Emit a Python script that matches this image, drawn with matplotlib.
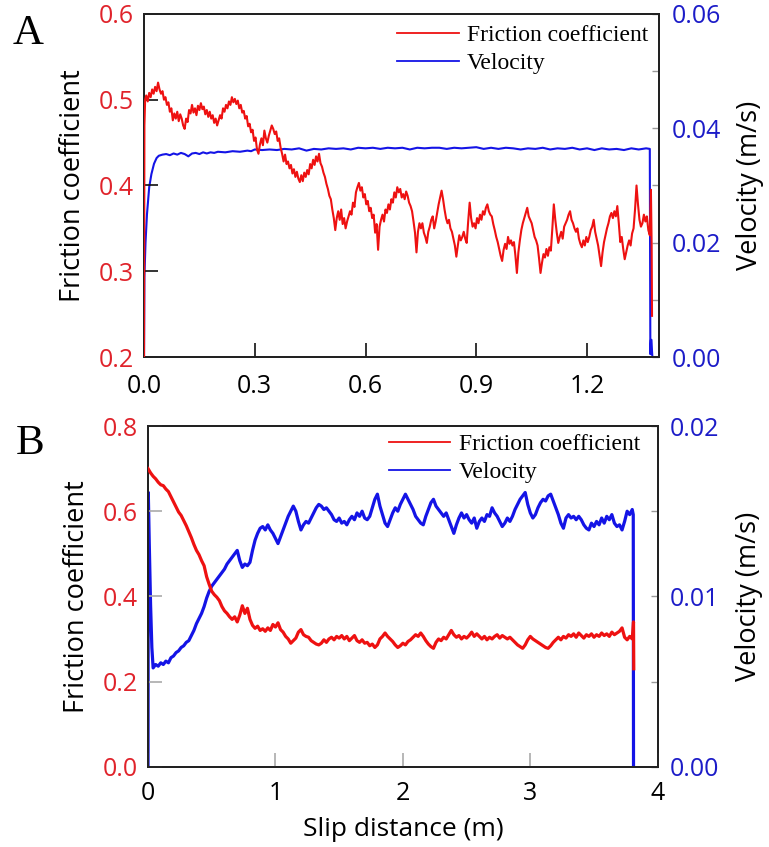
import matplotlib
matplotlib.use("Agg")
import matplotlib.pyplot as plt

# ---------------- Panel A data ----------------
a_fric_x = [0.000, 0.001, 0.003, 0.006, 0.010, 0.014, 0.018, 0.022, 0.026, 0.030, 0.034, 0.038, 0.042, 0.046,
            0.050, 0.054, 0.058, 0.062, 0.066, 0.070, 0.074, 0.078, 0.082, 0.086, 0.090, 0.094, 0.098, 0.102,
            0.106, 0.110, 0.114, 0.118, 0.122, 0.126, 0.130, 0.134, 0.138, 0.142, 0.146, 0.150, 0.154, 0.158,
            0.162, 0.166, 0.170, 0.174, 0.178, 0.182, 0.186, 0.190, 0.194, 0.198, 0.202, 0.206, 0.210, 0.214,
            0.218, 0.222, 0.226, 0.230, 0.234, 0.238, 0.242, 0.246, 0.250, 0.254, 0.258, 0.262, 0.266, 0.270,
            0.274, 0.278, 0.282, 0.286, 0.290, 0.294, 0.298, 0.302, 0.306, 0.310, 0.314, 0.318, 0.322, 0.326,
            0.330, 0.334, 0.338, 0.342, 0.346, 0.350, 0.354, 0.358, 0.362, 0.366, 0.370, 0.374, 0.378, 0.382,
            0.386, 0.390, 0.394, 0.398, 0.402, 0.406, 0.410, 0.414, 0.418, 0.422, 0.426, 0.430, 0.434, 0.438,
            0.442, 0.446, 0.450, 0.454, 0.458, 0.462, 0.466, 0.470, 0.474, 0.478, 0.482, 0.486, 0.490, 0.494,
            0.498, 0.502, 0.506, 0.510, 0.514, 0.518, 0.522, 0.526, 0.530, 0.534, 0.538, 0.542, 0.546, 0.550,
            0.554, 0.558, 0.562, 0.566, 0.570, 0.574, 0.578, 0.582, 0.586, 0.590, 0.594, 0.598, 0.602, 0.606,
            0.610, 0.614, 0.618, 0.622, 0.626, 0.630, 0.634, 0.638, 0.642, 0.646, 0.650, 0.654, 0.658, 0.662,
            0.666, 0.670, 0.674, 0.678, 0.682, 0.686, 0.690, 0.694, 0.698, 0.702, 0.706, 0.710, 0.714, 0.718,
            0.722, 0.726, 0.730, 0.734, 0.738, 0.742, 0.746, 0.750, 0.754, 0.758, 0.762, 0.766, 0.770, 0.774,
            0.778, 0.782, 0.786, 0.790, 0.794, 0.798, 0.802, 0.806, 0.810, 0.814, 0.818, 0.822, 0.826, 0.830,
            0.834, 0.838, 0.842, 0.846, 0.850, 0.854, 0.858, 0.862, 0.866, 0.870, 0.874, 0.878, 0.882, 0.886,
            0.890, 0.894, 0.898, 0.902, 0.906, 0.910, 0.914, 0.918, 0.922, 0.926, 0.930, 0.934, 0.938, 0.942,
            0.946, 0.950, 0.954, 0.958, 0.962, 0.966, 0.970, 0.974, 0.978, 0.982, 0.986, 0.990, 0.994, 0.998,
            1.002, 1.006, 1.010, 1.014, 1.018, 1.022, 1.026, 1.030, 1.034, 1.038, 1.042, 1.046, 1.050, 1.054,
            1.058, 1.062, 1.066, 1.070, 1.074, 1.078, 1.082, 1.086, 1.090, 1.094, 1.098, 1.102, 1.106, 1.110,
            1.114, 1.118, 1.122, 1.126, 1.130, 1.134, 1.138, 1.142, 1.146, 1.150, 1.154, 1.158, 1.162, 1.166,
            1.170, 1.174, 1.178, 1.182, 1.186, 1.190, 1.194, 1.198, 1.202, 1.206, 1.210, 1.214, 1.218, 1.222,
            1.226, 1.230, 1.234, 1.238, 1.242, 1.246, 1.250, 1.254, 1.258, 1.262, 1.266, 1.270, 1.274, 1.278,
            1.282, 1.286, 1.290, 1.294, 1.298, 1.302, 1.306, 1.310, 1.314, 1.318, 1.322, 1.326, 1.330, 1.334,
            1.338, 1.342, 1.346, 1.350, 1.354, 1.358, 1.362, 1.366, 1.370, 1.373, 1.375, 1.376]
a_fric_y = [0.200, 0.470, 0.500, 0.505, 0.498, 0.508, 0.503, 0.512, 0.507, 0.515, 0.510, 0.520, 0.512, 0.507,
            0.510, 0.500, 0.503, 0.494, 0.497, 0.486, 0.490, 0.476, 0.484, 0.478, 0.486, 0.475, 0.483, 0.478,
            0.470, 0.466, 0.478, 0.474, 0.488, 0.484, 0.494, 0.485, 0.490, 0.482, 0.493, 0.488, 0.496, 0.489,
            0.492, 0.483, 0.488, 0.480, 0.486, 0.478, 0.482, 0.473, 0.478, 0.470, 0.476, 0.482, 0.478, 0.490,
            0.486, 0.494, 0.490, 0.498, 0.494, 0.503, 0.497, 0.501, 0.495, 0.499, 0.490, 0.494, 0.485, 0.487,
            0.478, 0.481, 0.469, 0.472, 0.462, 0.465, 0.452, 0.456, 0.442, 0.437, 0.448, 0.455, 0.447, 0.464,
            0.455, 0.450, 0.458, 0.464, 0.470, 0.466, 0.460, 0.463, 0.452, 0.455, 0.444, 0.437, 0.428, 0.436,
            0.425, 0.428, 0.420, 0.424, 0.414, 0.419, 0.410, 0.416, 0.408, 0.404, 0.412, 0.405, 0.415, 0.410,
            0.418, 0.413, 0.425, 0.420, 0.430, 0.424, 0.434, 0.428, 0.437, 0.426, 0.422, 0.415, 0.410, 0.402,
            0.396, 0.388, 0.384, 0.372, 0.362, 0.348, 0.362, 0.370, 0.360, 0.372, 0.355, 0.362, 0.350, 0.358,
            0.364, 0.370, 0.366, 0.380, 0.375, 0.392, 0.398, 0.403, 0.394, 0.398, 0.386, 0.390, 0.378, 0.382,
            0.370, 0.374, 0.362, 0.366, 0.345, 0.355, 0.325, 0.352, 0.360, 0.366, 0.358, 0.372, 0.368, 0.378,
            0.372, 0.384, 0.380, 0.392, 0.386, 0.398, 0.392, 0.396, 0.386, 0.390, 0.384, 0.393, 0.388, 0.380,
            0.376, 0.370, 0.358, 0.345, 0.322, 0.346, 0.356, 0.350, 0.356, 0.345, 0.340, 0.333, 0.346, 0.352,
            0.360, 0.364, 0.350, 0.358, 0.368, 0.378, 0.386, 0.394, 0.384, 0.372, 0.362, 0.356, 0.360, 0.350,
            0.346, 0.338, 0.330, 0.317, 0.330, 0.342, 0.336, 0.340, 0.346, 0.338, 0.333, 0.358, 0.380, 0.362,
            0.352, 0.356, 0.350, 0.362, 0.356, 0.366, 0.360, 0.370, 0.366, 0.374, 0.378, 0.370, 0.366, 0.364,
            0.355, 0.348, 0.340, 0.334, 0.326, 0.318, 0.312, 0.325, 0.332, 0.326, 0.340, 0.332, 0.336, 0.330,
            0.334, 0.318, 0.298, 0.322, 0.336, 0.348, 0.356, 0.362, 0.368, 0.374, 0.364, 0.360, 0.356, 0.348,
            0.340, 0.336, 0.330, 0.315, 0.298, 0.310, 0.320, 0.316, 0.326, 0.318, 0.328, 0.324, 0.350, 0.378,
            0.360, 0.345, 0.333, 0.340, 0.346, 0.338, 0.352, 0.356, 0.360, 0.366, 0.370, 0.360, 0.356, 0.350,
            0.346, 0.350, 0.338, 0.332, 0.328, 0.336, 0.330, 0.340, 0.334, 0.340, 0.348, 0.352, 0.360, 0.346,
            0.338, 0.330, 0.318, 0.306, 0.322, 0.334, 0.342, 0.350, 0.356, 0.364, 0.368, 0.362, 0.370, 0.364,
            0.376, 0.356, 0.334, 0.340, 0.326, 0.314, 0.322, 0.330, 0.336, 0.330, 0.344, 0.350, 0.372, 0.400,
            0.378, 0.360, 0.352, 0.356, 0.366, 0.358, 0.364, 0.348, 0.342, 0.395, 0.330, 0.248]

a_vel_x = [0.000, 0.001, 0.004, 0.008, 0.014, 0.020, 0.027, 0.034, 0.040, 0.050, 0.060, 0.070, 0.080, 0.090,
           0.100, 0.110, 0.120, 0.130, 0.140, 0.150, 0.160, 0.170, 0.180, 0.190, 0.200, 0.220, 0.240, 0.260,
           0.280, 0.290, 0.300, 0.320, 0.340, 0.360, 0.380, 0.400, 0.420, 0.440, 0.460, 0.480, 0.500, 0.520,
           0.540, 0.560, 0.580, 0.600, 0.620, 0.640, 0.660, 0.680, 0.700, 0.720, 0.740, 0.760, 0.780, 0.800,
           0.820, 0.840, 0.860, 0.880, 0.900, 0.920, 0.940, 0.960, 0.980, 1.000, 1.020, 1.040, 1.060, 1.080,
           1.100, 1.120, 1.140, 1.160, 1.180, 1.200, 1.220, 1.240, 1.260, 1.280, 1.300, 1.320, 1.340, 1.360,
           1.370, 1.3715, 1.373, 1.3745, 1.376, 1.377]
a_vel_y = [0.0000, 0.0140, 0.0200, 0.0250, 0.0297, 0.0320, 0.0338, 0.0348, 0.0352, 0.0354, 0.0355, 0.0353,
           0.0356, 0.0354, 0.0357, 0.0355, 0.0351, 0.0356, 0.0357, 0.0355, 0.0358, 0.0356, 0.0358, 0.0357,
           0.0359, 0.0358, 0.0360, 0.0359, 0.0361, 0.0360, 0.0363, 0.0362, 0.0363, 0.0362, 0.0364, 0.0363,
           0.0365, 0.0361, 0.0364, 0.0363, 0.0365, 0.0364, 0.0365, 0.0363, 0.0366, 0.0365, 0.0366, 0.0364,
           0.0366, 0.0365, 0.0366, 0.0363, 0.0366, 0.0365, 0.0366, 0.0366, 0.0364, 0.0366, 0.0365, 0.0366,
           0.0367, 0.0364, 0.0366, 0.0364, 0.0366, 0.0365, 0.0363, 0.0365, 0.0364, 0.0366, 0.0363, 0.0365,
           0.0364, 0.0366, 0.0363, 0.0365, 0.0362, 0.0365, 0.0363, 0.0364, 0.0362, 0.0365, 0.0363, 0.0365,
           0.0364, 0.0005, 0.0030, 0.0030, 0.0010, 0.0000]

# ---------------- Panel B data ----------------
b_fric_x = [0.000, 0.020, 0.040, 0.060, 0.080, 0.100, 0.120, 0.140, 0.160, 0.180, 0.200, 0.220, 0.240, 0.260,
            0.280, 0.300, 0.320, 0.340, 0.360, 0.380, 0.400, 0.420, 0.440, 0.460, 0.480, 0.500, 0.520, 0.540,
            0.560, 0.580, 0.600, 0.620, 0.640, 0.660, 0.680, 0.700, 0.720, 0.740, 0.760, 0.780, 0.800, 0.820,
            0.840, 0.860, 0.880, 0.900, 0.920, 0.940, 0.960, 0.980, 1.000, 1.020, 1.040, 1.060, 1.080, 1.100,
            1.120, 1.140, 1.160, 1.180, 1.200, 1.220, 1.240, 1.260, 1.280, 1.300, 1.320, 1.340, 1.360, 1.380,
            1.400, 1.420, 1.440, 1.460, 1.480, 1.500, 1.520, 1.540, 1.560, 1.580, 1.600, 1.620, 1.640, 1.660,
            1.680, 1.700, 1.720, 1.740, 1.760, 1.780, 1.800, 1.820, 1.840, 1.860, 1.880, 1.900, 1.920, 1.940,
            1.960, 1.980, 2.000, 2.020, 2.040, 2.060, 2.080, 2.100, 2.120, 2.140, 2.160, 2.180, 2.200, 2.220,
            2.240, 2.260, 2.280, 2.300, 2.320, 2.340, 2.360, 2.380, 2.400, 2.420, 2.440, 2.460, 2.480, 2.500,
            2.520, 2.540, 2.560, 2.580, 2.600, 2.620, 2.640, 2.660, 2.680, 2.700, 2.720, 2.740, 2.760, 2.780,
            2.800, 2.820, 2.840, 2.860, 2.880, 2.900, 2.920, 2.940, 2.960, 2.980, 3.000, 3.020, 3.040, 3.060,
            3.080, 3.100, 3.120, 3.140, 3.160, 3.180, 3.200, 3.220, 3.240, 3.260, 3.280, 3.300, 3.320, 3.340,
            3.360, 3.380, 3.400, 3.420, 3.440, 3.460, 3.480, 3.500, 3.520, 3.540, 3.560, 3.580, 3.600, 3.620,
            3.640, 3.660, 3.680, 3.700, 3.720, 3.740, 3.760, 3.780, 3.800, 3.810, 3.812]
b_fric_y = [0.700, 0.690, 0.682, 0.676, 0.668, 0.662, 0.660, 0.652, 0.646, 0.634, 0.622, 0.610, 0.598, 0.590,
            0.578, 0.566, 0.552, 0.538, 0.522, 0.508, 0.498, 0.484, 0.472, 0.446, 0.428, 0.412, 0.404, 0.398,
            0.390, 0.376, 0.366, 0.360, 0.352, 0.346, 0.352, 0.340, 0.356, 0.378, 0.360, 0.372, 0.346, 0.332,
            0.325, 0.330, 0.320, 0.324, 0.318, 0.326, 0.320, 0.334, 0.328, 0.338, 0.322, 0.316, 0.306, 0.300,
            0.290, 0.296, 0.302, 0.316, 0.322, 0.310, 0.306, 0.304, 0.296, 0.292, 0.288, 0.286, 0.290, 0.298,
            0.292, 0.300, 0.304, 0.298, 0.306, 0.302, 0.308, 0.300, 0.306, 0.296, 0.302, 0.308, 0.296, 0.292,
            0.298, 0.290, 0.292, 0.284, 0.288, 0.280, 0.286, 0.300, 0.306, 0.314, 0.306, 0.300, 0.294, 0.286,
            0.280, 0.284, 0.290, 0.286, 0.294, 0.298, 0.304, 0.310, 0.306, 0.314, 0.306, 0.296, 0.288, 0.282,
            0.278, 0.292, 0.300, 0.296, 0.304, 0.300, 0.310, 0.320, 0.310, 0.304, 0.308, 0.300, 0.306, 0.302,
            0.308, 0.316, 0.306, 0.312, 0.306, 0.300, 0.306, 0.298, 0.304, 0.300, 0.306, 0.310, 0.302, 0.308,
            0.304, 0.300, 0.304, 0.298, 0.292, 0.286, 0.282, 0.278, 0.286, 0.298, 0.306, 0.300, 0.296, 0.292,
            0.288, 0.284, 0.280, 0.278, 0.284, 0.292, 0.298, 0.304, 0.298, 0.306, 0.302, 0.310, 0.306, 0.312,
            0.304, 0.314, 0.308, 0.302, 0.310, 0.306, 0.312, 0.304, 0.310, 0.306, 0.314, 0.308, 0.312, 0.306,
            0.316, 0.310, 0.314, 0.318, 0.326, 0.304, 0.298, 0.306, 0.300, 0.340, 0.230]

b_vel_x = [0.000, 0.002, 0.010, 0.020, 0.030, 0.040, 0.060, 0.080, 0.100, 0.120, 0.140, 0.160, 0.180, 0.200,
           0.220, 0.240, 0.260, 0.280, 0.300, 0.320, 0.340, 0.360, 0.380, 0.400, 0.420, 0.440, 0.460, 0.480,
           0.500, 0.520, 0.540, 0.560, 0.580, 0.600, 0.620, 0.640, 0.660, 0.680, 0.700, 0.720, 0.740, 0.760,
           0.780, 0.800, 0.820, 0.840, 0.860, 0.880, 0.900, 0.920, 0.940, 0.960, 0.980, 1.000, 1.020, 1.040,
           1.060, 1.080, 1.100, 1.120, 1.140, 1.160, 1.180, 1.200, 1.220, 1.240, 1.260, 1.280, 1.300, 1.320,
           1.340, 1.360, 1.380, 1.400, 1.420, 1.440, 1.460, 1.480, 1.500, 1.520, 1.540, 1.560, 1.580, 1.600,
           1.620, 1.640, 1.660, 1.680, 1.700, 1.720, 1.740, 1.760, 1.780, 1.800, 1.820, 1.840, 1.860, 1.880,
           1.900, 1.920, 1.940, 1.960, 1.980, 2.000, 2.020, 2.040, 2.060, 2.080, 2.100, 2.120, 2.140, 2.160,
           2.180, 2.200, 2.220, 2.240, 2.260, 2.280, 2.300, 2.320, 2.340, 2.360, 2.380, 2.400, 2.420, 2.440,
           2.460, 2.480, 2.500, 2.520, 2.540, 2.560, 2.580, 2.600, 2.620, 2.640, 2.660, 2.680, 2.700, 2.720,
           2.740, 2.760, 2.780, 2.800, 2.820, 2.840, 2.860, 2.880, 2.900, 2.920, 2.940, 2.960, 2.980, 3.000,
           3.020, 3.040, 3.060, 3.080, 3.100, 3.120, 3.140, 3.160, 3.180, 3.200, 3.220, 3.240, 3.260, 3.280,
           3.300, 3.320, 3.340, 3.360, 3.380, 3.400, 3.420, 3.440, 3.460, 3.480, 3.500, 3.520, 3.540, 3.560,
           3.580, 3.600, 3.620, 3.640, 3.660, 3.680, 3.700, 3.720, 3.740, 3.760, 3.780, 3.800, 3.808, 3.810]
b_vel_y = [0.0000, 0.0161, 0.0130, 0.0095, 0.0070, 0.0058, 0.0060, 0.0059, 0.0061, 0.0060, 0.0062, 0.0061,
           0.0064, 0.0065, 0.0067, 0.0068, 0.0070, 0.0071, 0.0073, 0.0074, 0.0077, 0.0080, 0.0084, 0.0087,
           0.0090, 0.0094, 0.0099, 0.0103, 0.0106, 0.0108, 0.0110, 0.0112, 0.0114, 0.0116, 0.0119, 0.0121,
           0.0123, 0.0125, 0.0127, 0.0121, 0.0117, 0.0119, 0.0118, 0.0120, 0.0127, 0.0133, 0.0137, 0.0140,
           0.0141, 0.0139, 0.0142, 0.0139, 0.0137, 0.0134, 0.0131, 0.0135, 0.0139, 0.0143, 0.0147, 0.0150,
           0.0153, 0.0150, 0.0144, 0.0139, 0.0142, 0.0144, 0.0143, 0.0146, 0.0149, 0.0152, 0.0154, 0.0153,
           0.0151, 0.0152, 0.0150, 0.0148, 0.0145, 0.0144, 0.0146, 0.0143, 0.0144, 0.0142, 0.0145, 0.0147,
           0.0145, 0.0149, 0.0147, 0.0150, 0.0146, 0.0145, 0.0147, 0.0152, 0.0157, 0.0160, 0.0153, 0.0148,
           0.0143, 0.0141, 0.0145, 0.0149, 0.0152, 0.0150, 0.0154, 0.0157, 0.0160, 0.0157, 0.0154, 0.0151,
           0.0147, 0.0145, 0.0143, 0.0142, 0.0147, 0.0151, 0.0155, 0.0157, 0.0153, 0.0151, 0.0149, 0.0147,
           0.0149, 0.0145, 0.0141, 0.0137, 0.0142, 0.0146, 0.0149, 0.0146, 0.0148, 0.0145, 0.0143, 0.0146,
           0.0140, 0.0144, 0.0146, 0.0144, 0.0148, 0.0147, 0.0152, 0.0149, 0.0147, 0.0144, 0.0141, 0.0143,
           0.0146, 0.0144, 0.0147, 0.0151, 0.0154, 0.0157, 0.0159, 0.0161, 0.0154, 0.0149, 0.0146, 0.0148,
           0.0152, 0.0155, 0.0157, 0.0156, 0.0159, 0.0160, 0.0156, 0.0152, 0.0148, 0.0143, 0.0140, 0.0146,
           0.0148, 0.0146, 0.0147, 0.0145, 0.0147, 0.0145, 0.0142, 0.0140, 0.0139, 0.0143, 0.0141, 0.0144,
           0.0142, 0.0146, 0.0143, 0.0147, 0.0145, 0.0148, 0.0143, 0.0141, 0.0142, 0.0139, 0.0144, 0.0150,
           0.0148, 0.0151, 0.0148, 0.0000]

# ---------------- Axis settings ----------------
a_xticks = [0.0, 0.3, 0.6, 0.9, 1.2]
a_xticklabels = ["0.0", "0.3", "0.6", "0.9", "1.2"]
a_yticks = [0.2, 0.3, 0.4, 0.5, 0.6]
a_yticklabels = ["0.2", "0.3", "0.4", "0.5", "0.6"]
a_vticks = [0.00, 0.01, 0.02, 0.03, 0.04, 0.05, 0.06]
a_vticklabels = ["0.00", "", "0.02", "", "0.04", "", "0.06"]

b_xticks = [0, 1, 2, 3, 4]
b_xticklabels = ["0", "1", "2", "3", "4"]
b_yticks = [0.0, 0.2, 0.4, 0.6, 0.8]
b_yticklabels = ["0.0", "0.2", "0.4", "0.6", "0.8"]
b_vticks = [0.000, 0.005, 0.010, 0.015, 0.020]
b_vticklabels = ["0.00", "", "0.01", "", "0.02"]

RED_LINE = "#ee1111"
BLUE_LINE = "#1414e6"
RED_TXT = "#e0232b"
BLUE_TXT = "#1c1cc8"
SANS = ["Open Sans", "DejaVu Sans"]
SERIF = ["Liberation Serif", "DejaVu Serif"]

fig = plt.figure(figsize=(7.69, 8.47), dpi=100)


def make_panel(rect, fx, fy, vx, vy, xlim, ylim, vlim, xt, xtl, yt, ytl, vt, vtl,
               tick_col, xlab=None, letter="A", letter_pos=(0, 0), lw=1.2, legend_anchor=(1, 1),
               xpad=6):
    ax = fig.add_axes(rect)
    ax2 = ax.twinx()
    l1, = ax.plot(fx, fy, color=RED_LINE, lw=lw, zorder=3)
    l2, = ax2.plot(vx, vy, color=BLUE_LINE, lw=lw, zorder=2)
    ax.set_zorder(ax2.get_zorder() + 1)
    ax.patch.set_visible(False)
    ax.set_xlim(*xlim)
    ax.set_ylim(*ylim)
    ax2.set_ylim(*vlim)
    ax.set_xticks(xt)
    ax.set_xticklabels(xtl)
    ax.set_yticks(yt)
    ax.set_yticklabels(ytl)
    ax2.set_yticks(vt)
    ax2.set_yticklabels(vtl)
    for a in (ax, ax2):
        for s in a.spines.values():
            s.set_linewidth(1.4)
            s.set_color("#222222")
    ax.tick_params(axis="both", direction="in", length=10, width=1.2, color=tick_col)
    ax.tick_params(axis="x", labelsize=18, pad=xpad)
    ax.tick_params(axis="y", labelcolor=RED_TXT, labelsize=18, pad=7)
    ax2.tick_params(axis="y", direction="in", length=5, width=1.0, color="#999999",
                    labelcolor=BLUE_TXT, labelsize=18, pad=9)
    for t in ax.get_yticklabels() + ax2.get_yticklabels() + ax.get_xticklabels():
        t.set_family(SANS)
    ax.set_ylabel("Friction coefficient", fontsize=19.5, family=SANS, labelpad=9)
    ax2.set_ylabel("Velocity (m/s)", fontsize=19.5, family=SANS, labelpad=11)
    leg = ax.legend([l1, l2], ["Friction coefficient", "Velocity"], loc="upper right",
                    bbox_to_anchor=legend_anchor, frameon=False,
                    prop={"family": SERIF, "size": 17}, handlelength=2.6, handletextpad=0.35,
                    labelspacing=0.28, borderaxespad=0.0, borderpad=0.0)
    for ln in leg.get_lines():
        ln.set_linewidth(1.3)
    fig.text(letter_pos[0], letter_pos[1], letter, fontsize=31, family=SERIF,
             ha="center", va="center")
    if xlab:
        ax.set_xlabel(xlab, fontsize=19, family=SANS, labelpad=8)
    return ax, ax2


axA, axA2 = make_panel([0.1873, 0.5785, 0.6697, 0.405], a_fric_x, a_fric_y, a_vel_x, a_vel_y,
                       (0, 1.395), (0.2, 0.6), (0.0, 0.06), a_xticks, a_xticklabels,
                       a_yticks, a_yticklabels, a_vticks, a_vticklabels, "#111111",
                       letter="A", letter_pos=(0.036, 0.960), lw=1.5,
                       legend_anchor=(0.979, 0.97), xpad=12)

axB, axB2 = make_panel([0.1925, 0.0948, 0.6628, 0.4022], b_fric_x, b_fric_y, b_vel_x, b_vel_y,
                       (0, 4), (0.0, 0.8), (0.0, 0.02), b_xticks, b_xticklabels,
                       b_yticks, b_yticklabels, b_vticks, b_vticklabels, "#aaaaaa",
                       xlab="Slip distance (m)", letter="B", letter_pos=(0.039, 0.476), lw=2.3,
                       legend_anchor=(0.965, 0.978), xpad=10)

fig.savefig("out.png", dpi=100)
